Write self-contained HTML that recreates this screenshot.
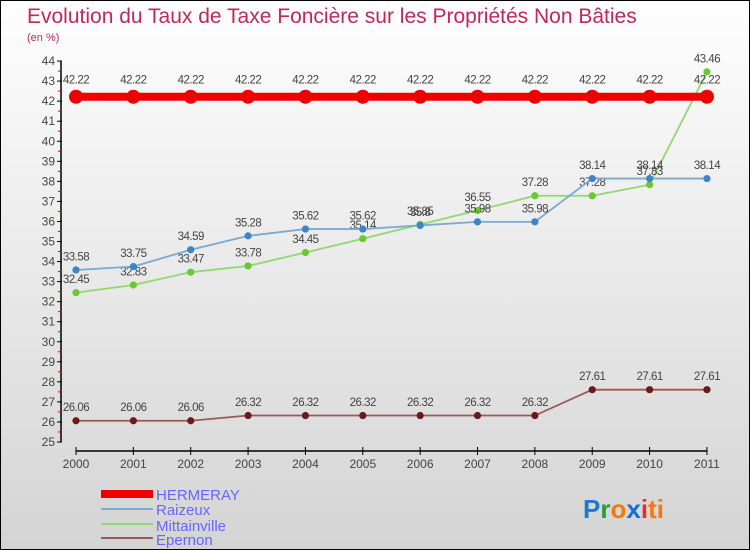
<!DOCTYPE html>
<html><head><meta charset="utf-8"><style>
body{margin:0}
#c{width:750px;height:550px;position:relative;background:linear-gradient(#fefefe,#d4d4d4);border:1px solid #000;box-sizing:border-box;font-family:"Liberation Sans",sans-serif;overflow:hidden}
</style></head><body>
<div id="c">
<svg width="750" height="550" id="s">
<text x="26" y="22" font-size="21" fill="#c0285a">Evolution du Taux de Taxe Foncière sur les Propriétés Non Bâties</text>
<text x="26" y="40" font-size="11" fill="#c0285a">(en %)</text>
<g id="ax"></g><g id="ser"></g>
<g>
<rect x="100" y="489" width="52" height="8" fill="#e00"/>
<text x="155" y="499" font-size="15" fill="#66f">HERMERAY</text>
<line x1="100" y1="508" x2="152" y2="508" stroke="#7aaad0" stroke-width="2"/>
<text x="155" y="514" font-size="15" fill="#66f">Raizeux</text>
<line x1="100" y1="523" x2="152" y2="523" stroke="#90d870" stroke-width="2"/>
<text x="155" y="530" font-size="15" fill="#66f">Mittainville</text>
<line x1="100" y1="537" x2="152" y2="537" stroke="#9a5a5a" stroke-width="2"/>
<text x="155" y="544" font-size="15" fill="#66f">Epernon</text>
</g>
<text x="582" y="517" font-size="26" font-weight="bold"><tspan fill="#1a7ad0">P</tspan><tspan fill="#2a9a3a">r</tspan><tspan fill="#f07a10">o</tspan><tspan fill="#1a6ad0">x</tspan><tspan fill="#e03030">i</tspan><tspan fill="#f07a10">ti</tspan></text>
</svg></div>
<script>
const years=["2000","2001","2002","2003","2004","2005","2006","2007","2008","2009","2010","2011"];
const hermeray=[42.22,42.22,42.22,42.22,42.22,42.22,42.22,42.22,42.22,42.22,42.22,42.22];
const raizeux=[33.58,33.75,34.59,35.28,35.62,35.62,35.8,35.98,35.98,38.14,38.14,38.14];
const mittainville=[32.45,32.83,33.47,33.78,34.45,35.14,35.85,36.55,37.28,37.28,37.83,43.46];
const epernon=[26.06,26.06,26.06,26.32,26.32,26.32,26.32,26.32,26.32,27.61,27.61,27.61];
const yTicks=[25,26,27,28,29,30,31,32,33,34,35,36,37,38,39,40,41,42,43,44];
const NS="http://www.w3.org/2000/svg";
const X=i=>75+i*57.36, Y=v=>441-(v-25)*20.05;
function mk(p,t,a){const e=document.createElementNS(NS,t);for(const k in a)e.setAttribute(k,a[k]);p.appendChild(e);return e;}
const ax=document.getElementById('ax');
mk(ax,'line',{x1:60,y1:Y(44),x2:60,y2:Y(25),stroke:'#000','stroke-width':1.5});
mk(ax,'line',{x1:75,y1:450,x2:706,y2:450,stroke:'#000','stroke-width':1.5});
yTicks.forEach(v=>{
 mk(ax,'line',{x1:56,y1:Y(v),x2:61,y2:Y(v),stroke:'#000'});
 if(v<44)mk(ax,'line',{x1:57,y1:Y(v+0.5),x2:60,y2:Y(v+0.5),stroke:'#e00'});
 const t=mk(ax,'text',{x:54,y:Y(v)+4,'font-size':12,fill:'#444','text-anchor':'end'});t.textContent=v;
 
 
});
years.forEach((y,i)=>{
 mk(ax,'line',{x1:X(i),y1:446,x2:X(i),y2:454,stroke:'#000'});
 const t=mk(ax,'text',{x:X(i),y:467,'font-size':12,fill:'#444','text-anchor':'middle'});t.textContent=y;
 
 
});
const ser=document.getElementById('ser');
function draw(vals,line,dot,w,r,name){
 const g=mk(ser,'g',{});
 
 
 mk(g,'polyline',{points:vals.map((v,i)=>X(i)+','+Y(v)).join(' '),fill:'none',stroke:line,'stroke-width':w});
 vals.forEach((v,i)=>{
  const c=mk(g,'circle',{cx:X(i),cy:Y(v),r:r,fill:dot});
  
  
  const t=mk(g,'text',{x:X(i),y:Y(v)-(r+6),'font-size':11.5,fill:'#444','text-anchor':'middle','letter-spacing':'-0.5'});
  t.textContent=v;
  
  
 });
}
draw(epernon,'#9a5a5a','#6a1a1a',1.8,3.6,'epernon');
draw(mittainville,'#90d870','#6ac830',1.8,3.6,'mittainville');
draw(raizeux,'#7aaad0','#3a86c8',1.8,3.6,'raizeux');
draw(hermeray,'#e00','#e00',8,7,'hermeray');
</script>
</body></html>
